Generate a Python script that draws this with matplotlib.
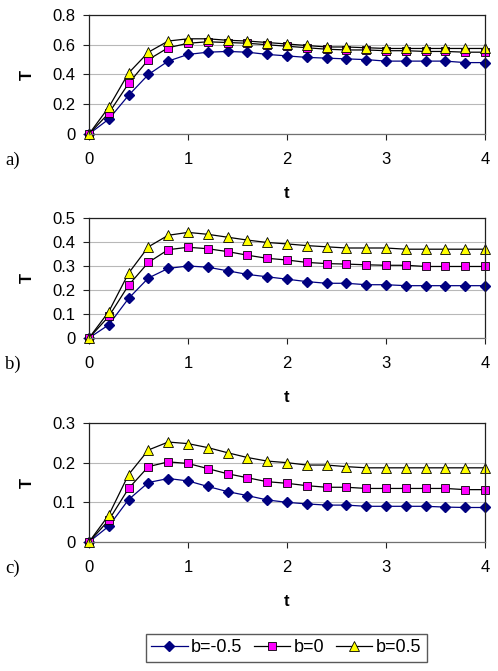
import matplotlib
matplotlib.use("Agg")
import matplotlib.pyplot as plt
import numpy as np

t = [0, 0.2, 0.4, 0.6, 0.8, 1.0, 1.2, 1.4, 1.6, 1.8, 2.0, 2.2, 2.4, 2.6, 2.8, 3.0, 3.2, 3.4, 3.6, 3.8, 4.0]

a_bm05 = [0, 0.10, 0.26, 0.40, 0.49, 0.535, 0.55, 0.555, 0.55, 0.535, 0.525, 0.515, 0.51, 0.505, 0.50, 0.49, 0.49, 0.49, 0.49, 0.48, 0.48]
a_b0 = [0, 0.14, 0.34, 0.50, 0.58, 0.61, 0.62, 0.615, 0.61, 0.60, 0.59, 0.58, 0.57, 0.565, 0.565, 0.56, 0.56, 0.555, 0.555, 0.55, 0.55]
a_bp05 = [0, 0.18, 0.41, 0.55, 0.625, 0.64, 0.64, 0.63, 0.625, 0.615, 0.605, 0.595, 0.585, 0.585, 0.58, 0.575, 0.575, 0.575, 0.575, 0.575, 0.575]

b_bm05 = [0, 0.055, 0.165, 0.25, 0.29, 0.30, 0.295, 0.28, 0.265, 0.255, 0.245, 0.235, 0.228, 0.228, 0.222, 0.222, 0.218, 0.218, 0.218, 0.218, 0.218]
b_b0 = [0, 0.09, 0.22, 0.315, 0.368, 0.378, 0.372, 0.36, 0.345, 0.332, 0.325, 0.315, 0.31, 0.308, 0.305, 0.303, 0.303, 0.298, 0.298, 0.298, 0.298]
b_bp05 = [0, 0.11, 0.27, 0.38, 0.428, 0.44, 0.432, 0.42, 0.408, 0.398, 0.392, 0.385, 0.38, 0.375, 0.375, 0.375, 0.37, 0.37, 0.37, 0.37, 0.37]

c_bm05 = [0, 0.04, 0.107, 0.15, 0.16, 0.154, 0.14, 0.127, 0.117, 0.106, 0.10, 0.096, 0.093, 0.093, 0.09, 0.09, 0.09, 0.09, 0.088, 0.087, 0.087]
c_b0 = [0, 0.055, 0.135, 0.19, 0.202, 0.198, 0.185, 0.172, 0.162, 0.152, 0.148, 0.142, 0.138, 0.138, 0.135, 0.135, 0.135, 0.135, 0.135, 0.132, 0.132]
c_bp05 = [0, 0.068, 0.17, 0.232, 0.252, 0.248, 0.238, 0.225, 0.213, 0.204, 0.2, 0.194, 0.194, 0.19, 0.187, 0.187, 0.187, 0.187, 0.187, 0.187, 0.187]

series_labels = ["b=-0.5", "b=0", "b=0.5"]
panel_labels = ["a)", "b)", "c)"]
ymaxes = [0.8, 0.5, 0.3]
ysteps = [0.2, 0.1, 0.1]
xticks = [0, 1, 2, 3, 4]

panels = [(a_bm05, a_b0, a_bp05), (b_bm05, b_b0, b_bp05), (c_bm05, c_b0, c_bp05)]

plt.rcParams['font.family'] = ['Liberation Sans', 'DejaVu Sans']

fig = plt.figure(figsize=(4.98, 6.71), dpi=100)
W, H = 498, 671
boxes = [(15, 134), (218, 338), (423, 542)]
left, right = 89, 485

styles = [
    dict(color='#000080', marker='D', markersize=5, mfc='#000080', mec='#000080', lw=0.9),
    dict(color='black', marker='s', markersize=6, mfc='#FF00FF', mec='black', mew=0.6, lw=0.9),
    dict(color='black', marker='^', markersize=7.5, mfc='#FFFF00', mec='black', mew=0.6, lw=0.9),
]

handles = []
for i, (data, (top, bot)) in enumerate(zip(panels, boxes)):
    ax = fig.add_axes([left / W, 1 - bot / H, (right - left) / W, (bot - top) / H])
    for ys, st, lab in zip(data, styles, series_labels):
        h, = ax.plot(t, ys, label=lab, clip_on=False, **st)
        if i == 0:
            handles.append(h)
    ax.set_xlim(0, 4)
    ax.set_ylim(0, ymaxes[i])
    yt = np.round(np.arange(0, ymaxes[i] + 1e-9, ysteps[i]), 2)
    ax.set_yticks(yt)
    ax.set_yticklabels(["0" if v == 0 else f"{v:g}" for v in yt])
    ax.set_xticks(xticks)
    ax.set_xticklabels([str(x) for x in xticks])
    ax.yaxis.grid(True, color='#b8b8b8', lw=0.8)
    ax.set_axisbelow(True)
    for s in ax.spines.values():
        s.set_color('#202020')
        s.set_linewidth(0.9)
    ax.spines['bottom'].set_color('#707070')
    ax.tick_params(axis='both', labelsize=12, length=4, color='#202020')
    ax.tick_params(axis='y', pad=5.5)
    ax.tick_params(axis='x', pad=9)
    ax.set_ylabel('T', fontsize=12, fontweight='bold', labelpad=13)
    ax.set_xlabel('t', fontsize=12, fontweight='bold', labelpad=14)
    fig.text(5 / W, 1 - (bot + 26) / H, panel_labels[i], fontsize=13.5,
             family=['Liberation Serif'], ha='left', va='center')

fig.legend(handles=handles, labels=series_labels, loc='center',
           bbox_to_anchor=(286.5 / W, 1 - 648 / H), ncol=3, fontsize=13,
           frameon=True, fancybox=False, edgecolor='#303030', handlelength=2.0,
           handletextpad=0.2, columnspacing=0.65, borderpad=0.3, borderaxespad=0)
leg = fig.legends[0]
leg.get_frame().set_linewidth(1.0)

fig.savefig('out.png', dpi=100)
